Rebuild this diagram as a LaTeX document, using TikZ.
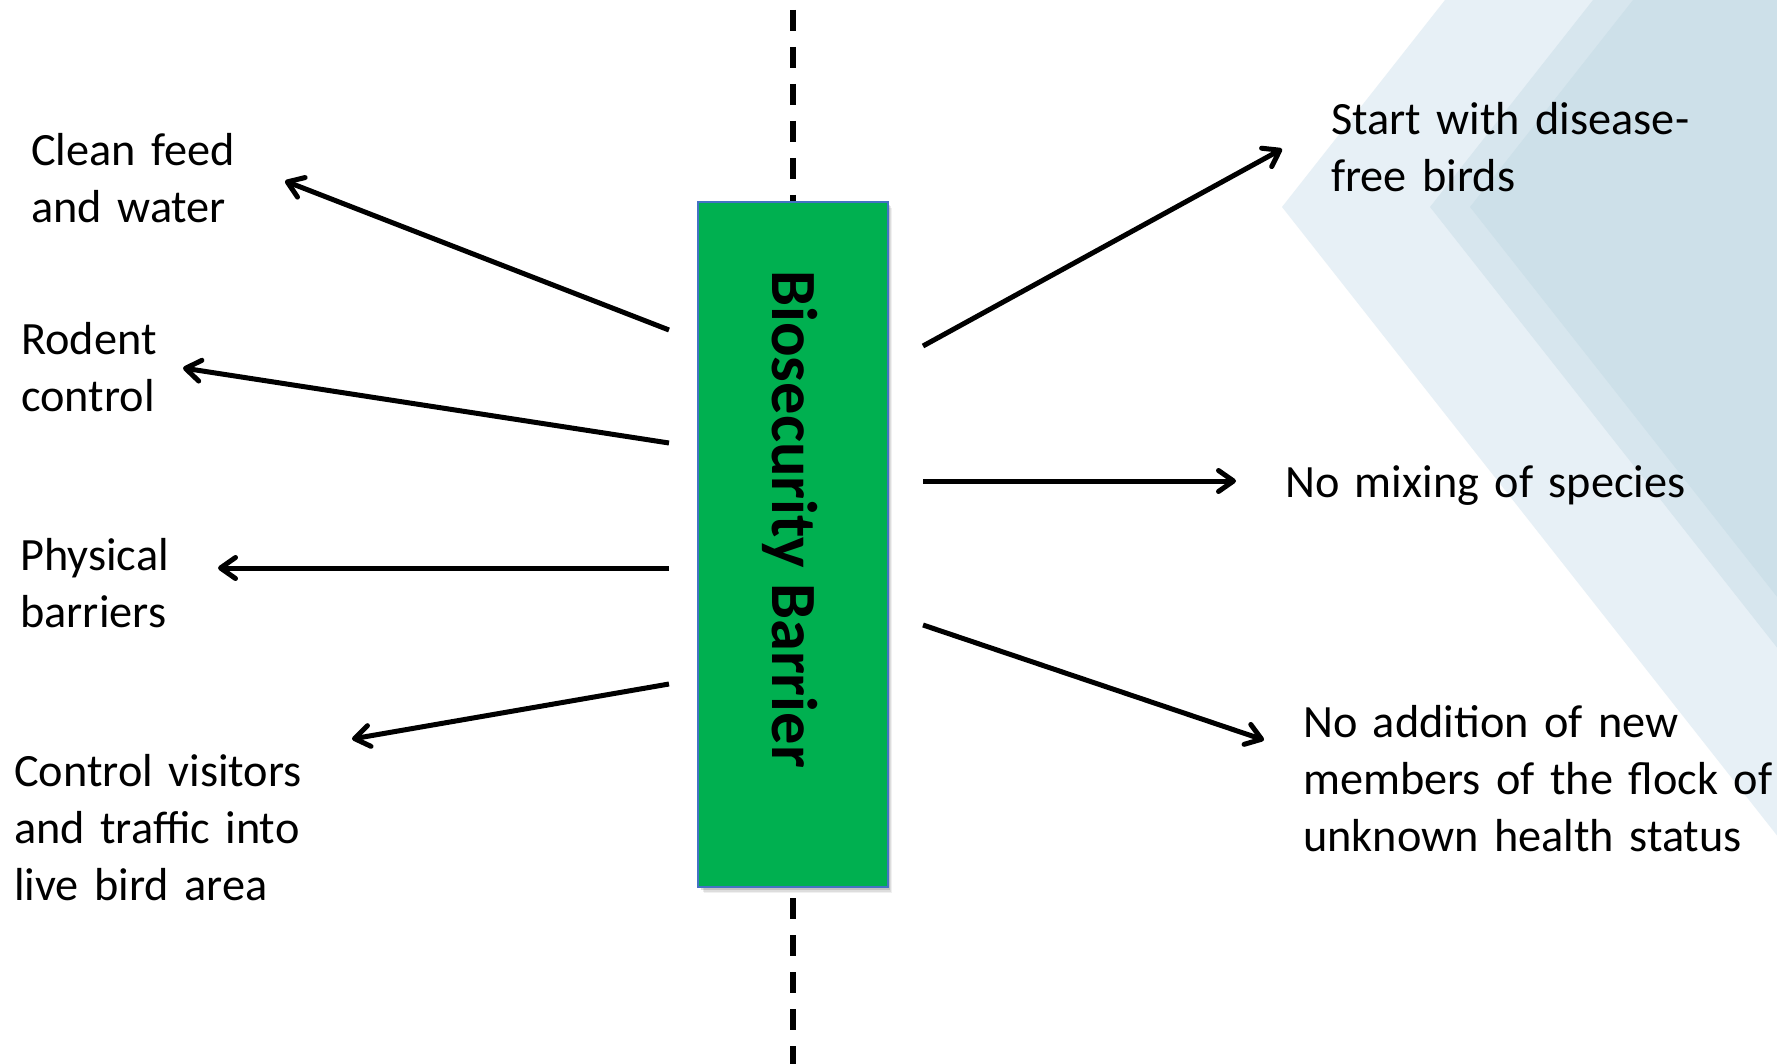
\documentclass[tikz,border=0pt]{standalone}
\usepackage{fontspec}
\setmainfont{Carlito}
\usetikzlibrary{arrows.meta}
\definecolor{bglight}{RGB}{231,240,246}
\definecolor{bgmid}{RGB}{215,230,238}
\definecolor{bgdark}{RGB}{205,224,233}
\definecolor{bargreen}{RGB}{0,176,80}
\definecolor{barblue}{RGB}{68,114,196}
\begin{document}
\begin{tikzpicture}[x=1pt,y=-1pt,
  lbl/.style={inner sep=0pt, anchor=base west, align=left, text width=700pt,
              font=\fontsize{46.3pt}{57pt}\selectfont},
  arr/.style={line width=5pt, -{Straight Barb[length=15pt,width=21pt,round]}},
  barbox/.style={draw=barblue, line width=1.5pt, fill=bargreen, inner sep=0pt,
                 minimum width=190pt, minimum height=685pt},
  divider/.style={line width=6pt, dash pattern=on 21pt off 16pt}
]
\useasboundingbox (0,0) rectangle (1777,1064);
\fill[white] (0,0) rectangle (1777,1064);
% background chevrons
\begin{scope}
\clip (0,0) rectangle (1777,1064);
\fill[bglight] (1445,0) -- (1282,207) -- (1957,1064) -- (2600,1064) -- (2600,0) -- cycle;
\fill[bgmid]   (1593,0) -- (1430,207) -- (2105,1064) -- (2600,1064) -- (2600,0) -- cycle;
\fill[bgdark]  (1633,0) -- (1470,207) -- (2145,1064) -- (2600,1064) -- (2600,0) -- cycle;
\end{scope}
% dashed divider
\coordinate (dtop) at (793,10);
\coordinate (dbot) at (793,1064);
\draw[divider] (dtop) -- (dbot);
% shadow + barrier box
\foreach \o/\a in {6/0.06,4.5/0.08,3/0.12}{
  \fill[black,opacity=\a] (698+\o,202+\o) rectangle (888+\o*0.6,887+\o);
}
\node[barbox] (bar) at (793,544.5) {};
\node[rotate=-90, inner sep=0pt, anchor=base west,
      font=\bfseries\fontsize{64.5pt}{70pt}\selectfont] (title) at (772,270) {Biosecurity Barrier};
% labels
\node[lbl] (clean)    at (31,166) {Clean feed\\and water};
\node[lbl] (rodent)   at (21,355) {Rodent\\control};
\node[lbl] (physical) at (20,570) {Physical\\barriers};
\node[lbl] (control)  at (14,786) {Control visitors\\and traffic into\\live bird area};
\node[lbl] (start)    at (1331,135) {Start with disease-\\free birds};
\node[lbl] (mixing)   at (1285,497) {No mixing of species};
\node[lbl] (addition) at (1303,737) {No addition of new\\members of the flock of\\unknown health status};
% arrow end points
\coordinate (l1) at (669,330);  \coordinate (h1) at (285,181);
\coordinate (l2) at (669,443);  \coordinate (h2) at (183,368);
\coordinate (l3) at (669,568);  \coordinate (h3) at (218,568);
\coordinate (l4) at (669,684);  \coordinate (h4) at (352,739);
\coordinate (r1) at (923,346);  \coordinate (k1) at (1282,149);
\coordinate (r2) at (923,481);  \coordinate (k2) at (1236,481);
\coordinate (r3) at (923,625);  \coordinate (k3) at (1264,740);
\draw[arr] (l1) -- (h1);
\draw[arr] (l2) -- (h2);
\draw[arr] (l3) -- (h3);
\draw[arr] (l4) -- (h4);
\draw[arr] (r1) -- (k1);
\draw[arr] (r2) -- (k2);
\draw[arr] (r3) -- (k3);
\end{tikzpicture}
\end{document}
